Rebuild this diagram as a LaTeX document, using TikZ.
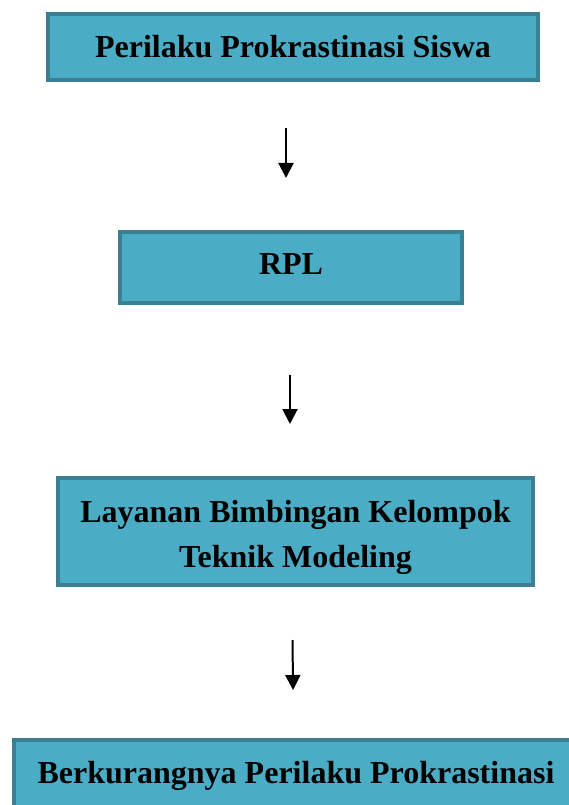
\documentclass[tikz,border=0pt]{standalone}
\usepackage{fontspec}
\setmainfont{Liberation Serif}
\usetikzlibrary{arrows.meta, positioning}

\definecolor{boxfill}{HTML}{4BACC6}
\definecolor{boxline}{HTML}{3A7F92}

\begin{document}
\begin{tikzpicture}[
    x=1pt, y=1pt,
    block/.style={rectangle, draw=boxline, fill=boxfill, line width=4pt, align=center, inner sep=0pt, outer sep=0pt, font=\fontsize{32}{45}\selectfont\bfseries},
    arrow/.style={-{Triangle[length=15pt, width=15pt]}, line width=2pt}
]
    \useasboundingbox (0,0) rectangle (569,-805);

    \node[block, minimum width=490pt, minimum height=66pt] (perilaku) at (293,-47) {Perilaku Prokrastinasi Siswa};
    \node[block, minimum width=342pt, minimum height=71pt, text height=21pt, text depth=7.5pt, below=152pt of perilaku, xshift=-2pt] (rpl) {RPL};
    \node[block, minimum width=475pt, minimum height=107pt, text height=78pt, text depth=7pt, below=175pt of rpl, xshift=4.5pt] (layanan) {Layanan Bimbingan Kelompok\\Teknik Modeling};
    \node[block, minimum width=580pt, minimum height=76pt, text height=22pt, text depth=11pt, below=155pt of layanan, xshift=8.5pt] (berkurang) {Berkurangnya Perilaku Prokrastinasi\hspace*{16pt}};

    \draw[arrow, shorten <=48pt, shorten >=54pt] ([xshift=-7pt]perilaku.south) -- ([xshift=-5pt]rpl.north);
    \draw[arrow, shorten <=72pt, shorten >=54pt] ([xshift=-1pt]rpl.south) -- ([xshift=-5.5pt]layanan.north);
    \draw[arrow, shorten <=55pt, shorten >=50pt] ([xshift=-3.5pt]layanan.south) -- ([xshift=-10.5pt]berkurang.north);
\end{tikzpicture}
\end{document}
